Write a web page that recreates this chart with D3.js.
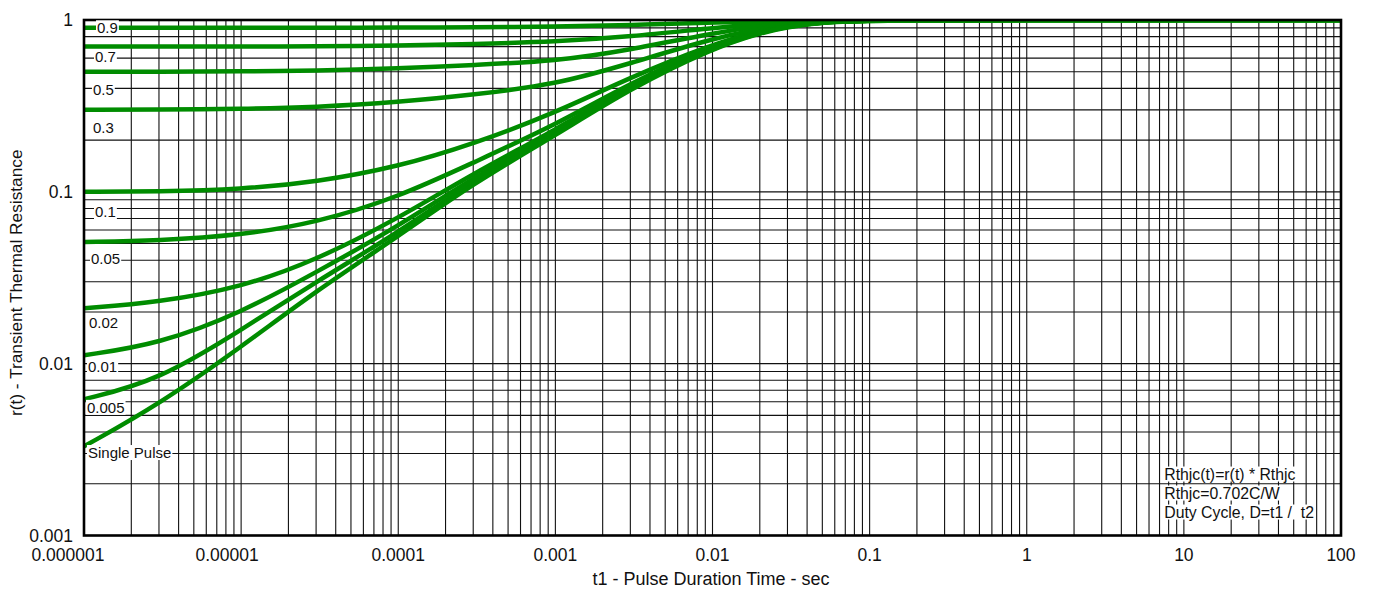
<!DOCTYPE html>
<html>
<head>
<meta charset="utf-8">
<script src="https://cdn.jsdelivr.net/npm/d3@7"></script>
<style>
  html, body { margin: 0; padding: 0; background: #fff; }
  svg { display: block; font-family: "Liberation Sans", Arial, sans-serif; }
</style>
</head>
<body>
<svg id="chart" width="1373" height="590"></svg>
<script>
// Pulse duration samples (seconds)
const pulseTimes = [1e-6, 3e-6, 1e-5, 3e-5, 1e-4, 3e-4, 1e-3, 3e-3, 1e-2, 2e-2, 3e-2, 5e-2, 1e-1, 1, 10, 100];

// Normalized transient thermal resistance r(t) for each duty cycle
const r_d09    = [0.900, 0.900, 0.900, 0.901, 0.903, 0.907, 0.915, 0.935, 0.965, 0.982, 0.990, 0.996, 1.000, 1, 1, 1];
const r_d07    = [0.700, 0.700, 0.701, 0.703, 0.708, 0.725, 0.748, 0.800, 0.900, 0.950, 0.972, 0.990, 0.999, 1, 1, 1];
const r_d05    = [0.500, 0.500, 0.502, 0.507, 0.522, 0.548, 0.575, 0.670, 0.840, 0.920, 0.955, 0.985, 0.998, 1, 1, 1];
const r_d03    = [0.300, 0.301, 0.303, 0.311, 0.332, 0.368, 0.420, 0.560, 0.780, 0.890, 0.940, 0.980, 0.997, 1, 1, 1];
const r_d01    = [0.100, 0.1005, 0.1035, 0.114, 0.140, 0.190, 0.288, 0.465, 0.725, 0.865, 0.930, 0.978, 0.997, 1, 1, 1];
const r_d005   = [0.051, 0.052, 0.056, 0.066, 0.093, 0.148, 0.245, 0.430, 0.710, 0.860, 0.925, 0.977, 0.996, 1, 1, 1];
const r_d002   = [0.021, 0.0228, 0.0278, 0.040, 0.070, 0.128, 0.229, 0.415, 0.700, 0.855, 0.920, 0.975, 0.996, 1, 1, 1];
const r_d001   = [0.0112, 0.0130, 0.0198, 0.034, 0.063, 0.121, 0.222, 0.410, 0.695, 0.850, 0.918, 0.974, 0.996, 1, 1, 1];
const r_d0005  = [0.0062, 0.0080, 0.0157, 0.030, 0.058, 0.116, 0.217, 0.405, 0.690, 0.845, 0.915, 0.972, 0.995, 1, 1, 1];
const r_single = [0.0033, 0.0058, 0.0125, 0.0265, 0.055, 0.112, 0.213, 0.400, 0.685, 0.840, 0.910, 0.970, 0.995, 1, 1, 1];

const seriesValues = [r_d09, r_d07, r_d05, r_d03, r_d01, r_d005, r_d002, r_d001, r_d0005, r_single];

// Curve labels and where each one sits (pulse time, r value)
const curveLabels  = ["0.9", "0.7", "0.5", "0.3", "0.1", "0.05", "0.02", "0.01", "0.005", "Single Pulse"];
const labelTimes   = [1.21e-6, 1.175e-6, 1.14e-6, 1.14e-6, 1.175e-6, 1.108e-6, 1.076e-6, 1.06e-6, 1.045e-6, 1.06e-6];
const labelLevels  = [0.898, 0.609, 0.392, 0.235, 0.0764, 0.0406, 0.0172, 0.00955, 0.00555, 0.00303];

// Axis tick labels
const xTickValues = [1e-6, 1e-5, 1e-4, 1e-3, 1e-2, 1e-1, 1, 10, 100];
const xTickLabels = ["0.000001", "0.00001", "0.0001", "0.001", "0.01", "0.1", "1", "10", "100"];
const yTickValues = [0.001, 0.01, 0.1, 1];
const yTickLabels = ["0.001", "0.01", "0.1", "1"];

const noteLines = ["Rthjc(t)=r(t) * Rthjc", "Rthjc=0.702C/W", "Duty Cycle, D=t1 /  t2"];

const svg = d3.select("#chart");
const plotLeft = 84, plotRight = 1341, plotTop = 20, plotBottom = 535.5;

const x = d3.scaleLog().domain([1e-6, 100]).range([plotLeft, plotRight]);
const y = d3.scaleLog().domain([0.001, 1]).range([plotBottom, plotTop]);

// Log grid: every 1..9 multiple of each decade
const xGrid = [];
for (let k = -6; k <= 1; k++) for (let m = 1; m <= 9; m++) xGrid.push(m * Math.pow(10, k));
xGrid.push(100);
const yGrid = [];
for (let k = -3; k <= -1; k++) for (let m = 1; m <= 9; m++) yGrid.push(m * Math.pow(10, k));
yGrid.push(1);

const grid = svg.append("g").attr("stroke", "#111").attr("stroke-width", 1.1);
grid.selectAll("line.v").data(xGrid).join("line")
  .attr("class", "v")
  .attr("x1", d => x(d)).attr("x2", d => x(d))
  .attr("y1", plotTop).attr("y2", plotBottom);
grid.selectAll("line.h").data(yGrid).join("line")
  .attr("class", "h")
  .attr("x1", plotLeft).attr("x2", plotRight)
  .attr("y1", d => y(d)).attr("y2", d => y(d));

// Curves, clipped to the plot frame
svg.append("clipPath").attr("id", "plotClip")
  .append("rect").attr("x", plotLeft).attr("y", plotTop)
  .attr("width", plotRight - plotLeft).attr("height", plotBottom - plotTop);

const line = d3.line()
  .x(d => x(d[0]))
  .y(d => y(d[1]))
  .curve(d3.curveBasis);

svg.append("g").attr("clip-path", "url(#plotClip)")
  .selectAll("path").data(seriesValues).join("path")
  .attr("d", vals => line(pulseTimes.map((t, i) => [t, vals[i]])))
  .attr("fill", "none")
  .attr("stroke", "#008c00")
  .attr("stroke-width", 4.5)
  .attr("stroke-linejoin", "round");

// Frame
svg.append("rect")
  .attr("x", plotLeft).attr("y", plotTop)
  .attr("width", plotRight - plotLeft).attr("height", plotBottom - plotTop)
  .attr("fill", "none").attr("stroke", "#000").attr("stroke-width", 2.6);

// Text with a white backing box
function boxedText(g, tx, ty, str, size) {
  const grp = g.append("g");
  const bg = grp.append("rect").attr("fill", "#fff");
  const t = grp.append("text")
    .attr("x", tx).attr("y", ty)
    .attr("dy", "0.35em")
    .attr("font-size", size)
    .attr("fill", "#111")
    .style("white-space", "pre")
    .text(str);
  const bb = t.node().getBBox();
  bg.attr("x", bb.x - 1).attr("y", bb.y + 1).attr("width", bb.width + 2).attr("height", bb.height - 2);
}

const labelsG = svg.append("g");
curveLabels.forEach((s, i) => boxedText(labelsG, x(labelTimes[i]), y(labelLevels[i]), s, 15));

// Notes block, lower right
const noteG = svg.append("g");
const noteX = x(7.5);
const noteY0 = y(0.00228);
noteLines.forEach((s, i) => boxedText(noteG, noteX, noteY0 + i * 19, s, 15.8));

// Axis tick labels
const xLabelShift = v => (v === 1e-6 ? -16 : v === 1e-5 ? -14 : 0);
svg.append("g").selectAll("text").data(xTickValues).join("text")
  .attr("x", d => x(d) + xLabelShift(d))
  .attr("y", 561)
  .attr("text-anchor", "middle")
  .attr("font-size", 17.5)
  .attr("fill", "#111")
  .text((d, i) => xTickLabels[i]);

svg.append("g").selectAll("text").data(yTickValues).join("text")
  .attr("x", 73)
  .attr("y", d => y(d))
  .attr("dy", "0.36em")
  .attr("text-anchor", "end")
  .attr("font-size", 17.5)
  .attr("fill", "#111")
  .text((d, i) => yTickLabels[i]);

// Axis titles
svg.append("text")
  .attr("x", 711)
  .attr("y", 585)
  .attr("text-anchor", "middle")
  .attr("font-size", 18)
  .attr("fill", "#111")
  .text("t1 - Pulse Duration Time - sec");

svg.append("text")
  .attr("transform", `translate(22, ${(plotTop + plotBottom) / 2 + 5}) rotate(-90)`)
  .attr("text-anchor", "middle")
  .attr("font-size", 17.3)
  .attr("fill", "#111")
  .text("r(t) - Transient Thermal Resistance");
</script>
</body>
</html>
